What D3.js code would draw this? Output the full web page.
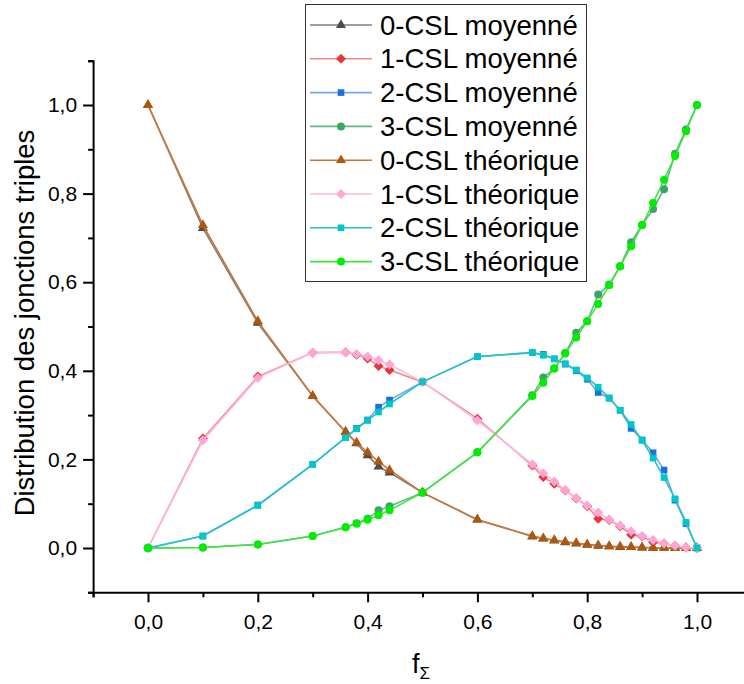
<!DOCTYPE html>
<html><head><meta charset="utf-8">
<script src="https://cdn.jsdelivr.net/npm/d3@7"></script>
<style>body{margin:0;background:#fff}svg{display:block}text{font-family:"Liberation Sans",Arial,sans-serif;fill:#000}</style>
</head><body><svg id="c" width="744" height="684"></svg>
<script>
const fValues = [0, 0.1, 0.2, 0.3, 0.36, 0.38, 0.4, 0.42, 0.44, 0.5, 0.6, 0.7, 0.72, 0.74, 0.76, 0.78, 0.8, 0.82, 0.84, 0.86, 0.88, 0.9, 0.92, 0.94, 0.96, 0.98, 1.0];
const moy0 = [1.0, 0.722, 0.508, 0.343, 0.262, 0.236, 0.209, 0.184, 0.170, 0.125, 0.064, 0.026, 0.021, 0.017, 0.013, 0.010, 0.007, 0.005, 0.004, 0.002, 0.002, 0.001, 0.0005, 0.0002, 0.0001, 0, 0];
const moy1 = [0, 0.247, 0.387, 0.441, 0.442, 0.436, 0.428, 0.411, 0.402, 0.375, 0.292, 0.186, 0.160, 0.145, 0.130, 0.112, 0.094, 0.066, 0.063, 0.049, 0.030, 0.026, 0.013, 0.010, 0.005, 0.001, 0];
const moy2 = [0, 0.027, 0.097, 0.189, 0.250, 0.270, 0.289, 0.318, 0.334, 0.375, 0.432, 0.441, 0.437, 0.427, 0.415, 0.400, 0.381, 0.351, 0.338, 0.311, 0.270, 0.244, 0.215, 0.176, 0.108, 0.055, 0];
const moy3 = [0, 0.001, 0.008, 0.027, 0.047, 0.056, 0.066, 0.085, 0.094, 0.125, 0.216, 0.345, 0.385, 0.405, 0.440, 0.486, 0.512, 0.572, 0.595, 0.636, 0.690, 0.729, 0.765, 0.810, 0.890, 0.945, 1.0];
const theo0 = [1.0, 0.729, 0.512, 0.343, 0.262, 0.238, 0.216, 0.195, 0.176, 0.125, 0.064, 0.027, 0.022, 0.018, 0.014, 0.011, 0.008, 0.006, 0.004, 0.003, 0.002, 0.001, 0.0005, 0.0002, 0.0001, 0.00001, 0];
const theo1 = [0, 0.243, 0.384, 0.441, 0.442, 0.438, 0.432, 0.424, 0.414, 0.375, 0.288, 0.189, 0.169, 0.150, 0.131, 0.113, 0.096, 0.080, 0.065, 0.051, 0.038, 0.027, 0.018, 0.010, 0.005, 0.001, 0];
const theo2 = [0, 0.027, 0.096, 0.189, 0.249, 0.269, 0.288, 0.307, 0.325, 0.375, 0.432, 0.441, 0.435, 0.427, 0.416, 0.402, 0.384, 0.363, 0.339, 0.311, 0.279, 0.243, 0.203, 0.159, 0.111, 0.058, 0];
const theo3 = [0, 0.001, 0.008, 0.027, 0.047, 0.055, 0.064, 0.074, 0.085, 0.125, 0.216, 0.343, 0.373, 0.405, 0.439, 0.475, 0.512, 0.551, 0.593, 0.636, 0.681, 0.729, 0.779, 0.831, 0.885, 0.941, 1.0];
const seriesNames = ["0-CSL moyenné","1-CSL moyenné","2-CSL moyenné","3-CSL moyenné","0-CSL théorique","1-CSL théorique","2-CSL théorique","3-CSL théorique"];
const seriesValues = [moy0, moy1, moy2, moy3, theo0, theo1, theo2, theo3];
const lineColors = ["#7f7f7f","#f4878a","#79a6ea","#5dbb86","#c8783a","#ffb9de","#22c4c8","#3ee63e"];
const markColors = ["#4d4d4d","#e8353a","#1f6ee0","#3aa564","#b0570e","#ffa6d6","#00c8c8","#00ee00"];
const xTicks = [0, 0.2, 0.4, 0.6, 0.8, 1.0];
const yTicks = [0, 0.2, 0.4, 0.6, 0.8, 1.0];
const minorTicks = [-0.1, 0.1, 0.3, 0.5, 0.7, 0.9, 1.1];

const markShapes = [d3.symbolTriangle, d3.symbolSquare, d3.symbolSquare, d3.symbolCircle];
const markSizes = [44, 50, 44, 50];
const markRot = [0, 45, 0, 0];

const svg = d3.select("#c");
const x = d3.scaleLinear().domain([-0.1, 1.1]).range([93.1, 751.9]);
const y = d3.scaleLinear().domain([-0.1, 1.1]).range([592.3, 60.7]);
const fmt = d => d3.format(".1f")(d).replace(".", ",");

// axes
const xAxisG = svg.append("g").attr("transform", `translate(0,${y(-0.1)})`);
xAxisG.call(d3.axisBottom(x).tickValues(xTicks).tickFormat(fmt).tickSize(10).tickPadding(12));
xAxisG.append("g").call(d3.axisBottom(x).tickValues(minorTicks).tickFormat("").tickSize(5));
const yAxisG = svg.append("g").attr("transform", `translate(${x(-0.1)},0)`);
yAxisG.call(d3.axisLeft(y).tickValues(yTicks).tickFormat(fmt).tickSize(10).tickPadding(6));
yAxisG.append("g").call(d3.axisLeft(y).tickValues(minorTicks).tickFormat("").tickSize(5));
svg.selectAll(".domain").attr("stroke", "#000").attr("stroke-width", 2);
svg.selectAll(".tick line").attr("stroke", "#000").attr("stroke-width", 2);
svg.selectAll(".tick text").style("font-size", "21px").style("font-family", '"Liberation Sans",Arial,sans-serif').attr("fill", "#000");
xAxisG.select("g .domain").remove();
yAxisG.select("g .domain").remove();

// axis titles
svg.append("text").attr("transform", `translate(34,323) rotate(-90)`).attr("text-anchor", "middle")
  .style("font-size", "27.5px").text("Distribution des jonctions triples");
const xt = svg.append("text").attr("x", 421).attr("y", 673).attr("text-anchor", "middle").style("font-size", "27px");
xt.append("tspan").text("f");
xt.append("tspan").attr("dy", 6).style("font-size", "17px").text("Σ");

// series
const line = d3.line().x((d, i) => x(fValues[i])).y(d => y(d));
seriesValues.forEach((vals, s) => {
  const g = svg.append("g");
  g.append("path").datum(vals).attr("d", line).attr("fill", "none")
    .attr("stroke", lineColors[s]).attr("stroke-width", 1.6);
  const k = s % 4;
  g.selectAll("path.m").data(vals).enter().append("path").attr("class", "m")
    .attr("d", d3.symbol().type(markShapes[k]).size(markSizes[k]))
    .attr("transform", (d, i) => `translate(${x(fValues[i])},${y(d)}) rotate(${markRot[k]})`)
    .attr("fill", markColors[s]);
});

// legend
const lg = svg.append("g");
lg.append("rect").attr("x", 305.5).attr("y", 4.5).attr("width", 281).attr("height", 277)
  .attr("fill", "#fff").attr("stroke", "#333").attr("stroke-width", 1);
seriesNames.forEach((name, s) => {
  const cy = 25 + s * 33.8;
  const k = s % 4;
  lg.append("line").attr("x1", 310).attr("x2", 372).attr("y1", cy).attr("y2", cy)
    .attr("stroke", lineColors[s]).attr("stroke-width", 1.6);
  lg.append("path").attr("d", d3.symbol().type(markShapes[k]).size(markSizes[k]))
    .attr("transform", `translate(341,${cy}) rotate(${markRot[k]})`).attr("fill", markColors[s]);
  lg.append("text").attr("x", 380).attr("y", cy).attr("dy", "0.35em").style("font-size", "27.5px").text(name);
});
</script></body></html>
